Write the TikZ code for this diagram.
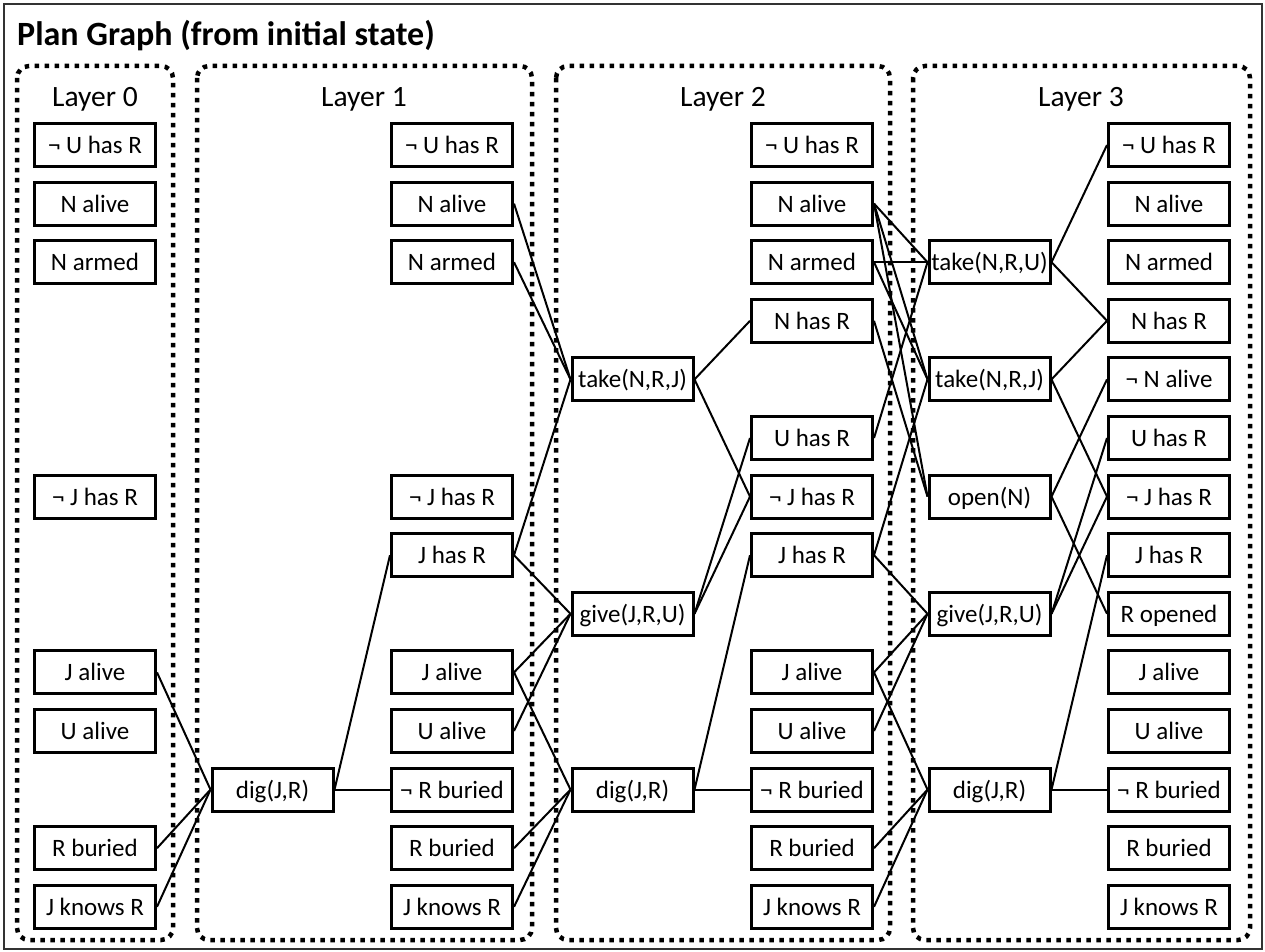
\documentclass[tikz,border=0pt]{standalone}
\usepackage{fontspec}
\setmainfont{Carlito}
\begin{document}
\begin{tikzpicture}[x=1pt,y=-1pt,
  box/.style={draw, line width=3pt, minimum width=121pt, minimum height=43pt, inner sep=0pt,
    text height=19pt, text depth=2pt, font=\fontsize{25}{28}\selectfont},
  conn/.style={line width=2pt},
  layerbox/.style={line width=4.5pt, dash pattern=on 4.5pt off 5.5pt, rounded corners=12pt},
  layerlabel/.style={anchor=base, font=\fontsize{29.5}{33}\selectfont},
]
\useasboundingbox (0,0) rectangle (1265,952);
\draw[line width=2pt, black!80] (4,4) rectangle (1262,949);
\node[anchor=base west, inner sep=0pt, font=\fontsize{34}{38}\selectfont\bfseries] (title) at (17,46) {Plan Graph (from initial state)};

% layer frames
\draw[layerbox] (17,66) rectangle (173,940);
\draw[layerbox] (197,66) rectangle (532,940);
\draw[layerbox] (556,66) rectangle (890,940);
\draw[layerbox] (913,66) rectangle (1250,940);
\node[layerlabel] (lab0) at (95,107) {Layer 0};
\node[layerlabel] (lab1) at (364,107) {Layer 1};
\node[layerlabel] (lab2) at (723,107) {Layer 2};
\node[layerlabel] (lab3) at (1081,107) {Layer 3};

% Layer 0 facts
\node[box] (a1) at (95,145) {¬ U has R};
\node[box] (a2) at (95,203.6) {N alive};
\node[box] (a3) at (95,262.2) {N armed};
\node[box] (a7) at (95,496.6) {¬ J has R};
\node[box] (a10) at (95,672.4) {J alive};
\node[box] (a11) at (95,731) {U alive};
\node[box] (a13) at (95,848.2) {R buried};
\node[box] (a14) at (95,906.8) {J knows R};

% Layer 1 action
\node[box] (p1dig) at (272.5,789.6) {dig(J,R)};

% Layer 1 facts
\node[box] (b1) at (452,145) {¬ U has R};
\node[box] (b2) at (452,203.6) {N alive};
\node[box] (b3) at (452,262.2) {N armed};
\node[box] (b7) at (452,496.6) {¬ J has R};
\node[box] (b8) at (452,555.2) {J has R};
\node[box] (b10) at (452,672.4) {J alive};
\node[box] (b11) at (452,731) {U alive};
\node[box] (b12) at (452,789.6) {¬ R buried};
\node[box] (b13) at (452,848.2) {R buried};
\node[box] (b14) at (452,906.8) {J knows R};

% Layer 2 actions
\node[box] (p2takeJ) at (632.5,379.4) {take(N,R,J)};
\node[box] (p2give) at (632.5,613.8) {give(J,R,U)};
\node[box] (p2dig) at (632.5,789.6) {dig(J,R)};

% Layer 2 facts
\node[box] (c1) at (812,145) {¬ U has R};
\node[box] (c2) at (812,203.6) {N alive};
\node[box] (c3) at (812,262.2) {N armed};
\node[box] (c4) at (812,320.8) {N has R};
\node[box] (c6) at (812,438) {U has R};
\node[box] (c7) at (812,496.6) {¬ J has R};
\node[box] (c8) at (812,555.2) {J has R};
\node[box] (c10) at (812,672.4) {J alive};
\node[box] (c11) at (812,731) {U alive};
\node[box] (c12) at (812,789.6) {¬ R buried};
\node[box] (c13) at (812,848.2) {R buried};
\node[box] (c14) at (812,906.8) {J knows R};

% Layer 3 actions
\node[box] (p3takeU) at (989.5,262.2) {take(N,R,U)};
\node[box] (p3takeJ) at (989.5,379.4) {take(N,R,J)};
\node[box] (p3open) at (989.5,496.6) {open(N)};
\node[box] (p3give) at (989.5,613.8) {give(J,R,U)};
\node[box] (p3dig) at (989.5,789.6) {dig(J,R)};

% Layer 3 facts
\node[box] (d1) at (1169,145) {¬ U has R};
\node[box] (d2) at (1169,203.6) {N alive};
\node[box] (d3) at (1169,262.2) {N armed};
\node[box] (d4) at (1169,320.8) {N has R};
\node[box] (d5) at (1169,379.4) {¬ N alive};
\node[box] (d6) at (1169,438) {U has R};
\node[box] (d7) at (1169,496.6) {¬ J has R};
\node[box] (d8) at (1169,555.2) {J has R};
\node[box] (d9) at (1169,613.8) {R opened};
\node[box] (d10) at (1169,672.4) {J alive};
\node[box] (d11) at (1169,731) {U alive};
\node[box] (d12) at (1169,789.6) {¬ R buried};
\node[box] (d13) at (1169,848.2) {R buried};
\node[box] (d14) at (1169,906.8) {J knows R};

% Layer 0 -> Layer 1 action
\draw[conn] (a10.east) -- (p1dig.west);
\draw[conn] (a13.east) -- (p1dig.west);
\draw[conn] (a14.east) -- (p1dig.west);
% Layer 1 action effects
\draw[conn] (p1dig.east) -- (b8.west);
\draw[conn] (p1dig.east) -- (b12.west);

% Layer 1 facts -> Layer 2 actions
\draw[conn] (b2.east) -- (p2takeJ.west);
\draw[conn] (b3.east) -- (p2takeJ.west);
\draw[conn] (b8.east) -- (p2takeJ.west);
\draw[conn] (b8.east) -- (p2give.west);
\draw[conn] (b10.east) -- (p2give.west);
\draw[conn] (b11.east) -- (p2give.west);
\draw[conn] (b10.east) -- (p2dig.west);
\draw[conn] (b13.east) -- (p2dig.west);
\draw[conn] (b14.east) -- (p2dig.west);
% Layer 2 action effects
\draw[conn] (p2takeJ.east) -- (c4.west);
\draw[conn] (p2takeJ.east) -- (c7.west);
\draw[conn] (p2give.east) -- (c6.west);
\draw[conn] (p2give.east) -- (c7.west);
\draw[conn] (p2dig.east) -- (c8.west);
\draw[conn] (p2dig.east) -- (c12.west);

% Layer 2 facts -> Layer 3 actions
\draw[conn] (c2.east) -- (p3takeU.west);
\draw[conn] (c2.east) -- (p3takeJ.west);
\draw[conn] (c2.east) -- (p3open.west);
\draw[conn] (c3.east) -- (p3takeU.west);
\draw[conn] (c3.east) -- (p3takeJ.west);
\draw[conn] (c6.east) -- (p3takeU.west);
\draw[conn] (c4.east) -- (p3open.west);
\draw[conn] (c8.east) -- (p3takeJ.west);
\draw[conn] (c8.east) -- (p3give.west);
\draw[conn] (c10.east) -- (p3give.west);
\draw[conn] (c11.east) -- (p3give.west);
\draw[conn] (c10.east) -- (p3dig.west);
\draw[conn] (c13.east) -- (p3dig.west);
\draw[conn] (c14.east) -- (p3dig.west);
% Layer 3 action effects
\draw[conn] (p3takeU.east) -- (d1.west);
\draw[conn] (p3takeU.east) -- (d4.west);
\draw[conn] (p3takeJ.east) -- (d4.west);
\draw[conn] (p3takeJ.east) -- (d7.west);
\draw[conn] (p3open.east) -- (d5.west);
\draw[conn] (p3open.east) -- (d9.west);
\draw[conn] (p3give.east) -- (d6.west);
\draw[conn] (p3give.east) -- (d7.west);
\draw[conn] (p3dig.east) -- (d8.west);
\draw[conn] (p3dig.east) -- (d12.west);
\end{tikzpicture}
\end{document}
